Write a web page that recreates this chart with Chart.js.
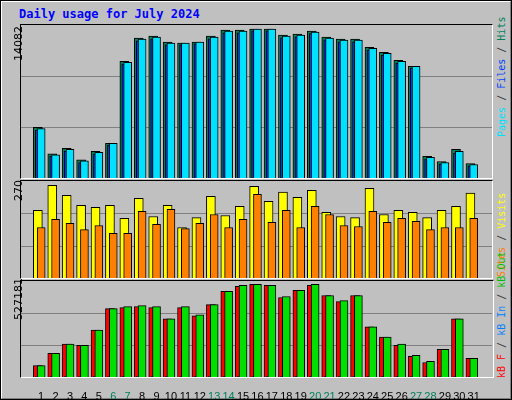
<!DOCTYPE html>
<html>
<head>
<meta charset="utf-8">
<script src="https://cdn.jsdelivr.net/npm/chart.js@4"></script>
<style>
  body { margin: 0; background: #fff; }
  #frame { position: absolute; left: 0; top: 0; width: 508px; height: 396px; background: #c0c0c0;
           border-top: 2px solid #fff; border-left: 2px solid #fff; border-right: 2px solid #808080; border-bottom: 2px solid #808080;
           outline: 1px solid #000; outline-offset: -1px; }
  #title { position: absolute; left: 19px; top: 7px; font: bold 12px "DejaVu Sans Mono", monospace; color: #0000ff; }
  .box { position: absolute; border: 1px solid #000; border-right-color: #fff; border-bottom-color: #fff; }
  .box canvas { display: block; }
  .rot { position: absolute; transform-origin: 0 0; transform: rotate(-90deg); white-space: nowrap;
         font: 10px "DejaVu Sans Mono", monospace; }
  .sep { color: #404040; }
</style>
</head>
<body>
<div id="frame"></div>
<div id="title">Daily usage for July 2024</div>

<div class="box" style="left:20px;top:24px;width:471px;height:153px"><canvas id="c1"></canvas></div>
<div class="box" style="left:20px;top:180px;width:471px;height:97px"><canvas id="c2"></canvas></div>
<div style="position:absolute;left:21px;top:281px;width:471px;height:118px"><canvas id="c3"></canvas></div>
<div style="position:absolute;left:20px;top:280px;width:472px;height:96px;border-left:1px solid #000;border-top:1px solid #000;border-bottom:1px solid #fff;border-right:1px solid #fff;pointer-events:none"></div>

<div class="rot" style="left:12px;top:61px;font-family:'DejaVu Sans';font-size:11px">14082</div>
<div class="rot" style="left:12px;top:201px;font-family:'DejaVu Sans';font-size:11px">270</div>
<div class="rot" style="left:12px;top:320px;font-family:'DejaVu Sans';font-size:11px">527181</div>

<div class="rot" style="left:496px;top:137px"><span style="color:#00e0ff">Pages</span><span class="sep"> / </span><span style="color:#0040ff">Files</span><span class="sep"> / </span><span style="color:#00805c">Hits</span></div>
<div class="rot" style="left:496px;top:277px"><span style="color:#ff8000">Sites</span><span class="sep"> / </span><span style="color:#ffff00">Visits</span></div>
<div class="rot" style="left:496px;top:378px"><span style="color:#ff0000">kB F</span><span class="sep"> / </span><span style="color:#0080ff">kB In</span><span class="sep"> / </span><span style="color:#00c000">kB Out</span></div>

<script>
const days = [1,2,3,4,5,6,7,8,9,10,11,12,13,14,15,16,17,18,19,20,21,22,23,24,25,26,27,28,29,30,31];
const weekends = [6,7,13,14,20,21,27,28];
const hits  = [4779,2294,2804,1720,2517,3282,11024,13222,13413,12840,12744,12840,13413,13987,13987,14082,14082,13509,13604,13891,13318,13127,13127,12362,11884,11119,10546,2039,1561,2708,1370];
const files = [4680,2200,2710,1625,2420,3280,10930,13125,13318,12745,12744,12840,13318,13890,13890,14082,14082,13413,13509,13795,13222,13030,13030,12266,11790,11025,10546,1945,1465,2520,1275];
const pages = [4520,2040,2550,1460,2260,3120,10770,12960,13160,12580,12580,12680,13160,13730,13730,13920,13920,13250,13350,13640,13060,12870,12870,12100,11630,10860,10380,1790,1310,2360,1120];
const visits = [197,270,241,212,206,212,174,232,179,212,147,176,238,182,209,267,223,250,235,255,191,179,176,261,185,197,191,176,197,209,247];
const sites  = [147,171,159,141,153,130,130,194,156,200,144,159,185,147,171,244,162,197,147,209,185,153,150,194,162,174,165,141,147,147,174];
const kbF   = [65416,134680,186628,180856,267436,388648,394420,400192,394420,330928,394420,348244,411736,486772,515632,527176,521404,452140,492544,521404,463684,429052,463684,284752,227032,180856,117364,82732,157768,330928,105820];
const kbOut = [65416,134680,186628,180856,267436,388648,400192,405964,400192,330928,400192,354016,411736,486772,521404,527176,521404,457912,492544,527176,463684,434824,463684,284752,227032,186628,123136,88504,157768,330928,105820];
const kbIn  = [3000,3000,3000,3000,3000,3000,3000,3000,3000,3000,3000,3000,3000,3000,3000,3000,3000,3000,3000,3000,3000,3000,3000,3000,3000,3000,3000,3000,3000,3000,3000];

const xMin = 0.128, xMax = 31.74;

function pts(vals, off) {
    return vals.map(function (v, i) { return { x: days[i] + off, y: v }; });
}

function bar(label, vals, off, color, thick, order) {
    return { label: label, data: pts(vals, off), backgroundColor: color, borderColor: '#000',
             borderWidth: 1, barThickness: thick, grouped: false, order: order };
}

// grid lines at thirds, drawn with the y scale
const thirdsGrid = {
    id: 'thirdsGrid',
    beforeDatasetsDraw: function (chart) {
        const y = chart.scales.y, a = chart.chartArea, ctx = chart.ctx;
        ctx.save();
        ctx.strokeStyle = '#808080';
        ctx.lineWidth = 1;
        [y.max / 3, y.max * 2 / 3].forEach(function (v) {
            const p = Math.round(y.getPixelForValue(v)) + 0.5;
            ctx.beginPath(); ctx.moveTo(a.left, p); ctx.lineTo(a.right, p); ctx.stroke();
        });
        ctx.restore();
    }
};

function makeChart(id, datasets, yMax, showX) {
    return new Chart(document.getElementById(id), {
        type: 'bar',
        data: { datasets: datasets },
        plugins: [thirdsGrid],
        options: {
            responsive: true, maintainAspectRatio: false, animation: false,
            layout: { padding: 0 },
            plugins: { legend: { display: false }, tooltip: { enabled: false } },
            scales: {
                x: {
                    type: 'linear', min: xMin, max: xMax, display: showX,
                    grid: { display: false }, border: { display: false },
                    afterBuildTicks: function (s) { s.ticks = days.map(function (d) { return { value: d }; }); },
                    afterFit: function (s) { if (showX) { s.height = 22; s.paddingLeft = 0; s.paddingRight = 0; } },
                    ticks: {
                        autoSkip: false, maxRotation: 0, padding: 5,
                        font: { family: 'Liberation Sans', size: 11 },
                        color: function (c) { return weekends.indexOf(c.tick.value) >= 0 ? '#00805c' : '#000'; },
                        callback: function (v) { return v; }
                    }
                },
                y: { min: 0, max: yMax, display: false }
            }
        }
    });
}

makeChart('c1', [
    bar('Hits', hits, -0.23, '#00805c', 9, 3),
    bar('Pages', pages, -0.3, '#0040ff', 3, 2),
    bar('Files', files, 0, '#00e0ff', 8, 1)
], 14462, false);

makeChart('c2', [
    bar('Visits', visits, -0.23, '#ffff00', 9, 2),
    bar('Sites', sites, 0, '#ff8000', 8, 1)
], 282.5, false);

makeChart('c3', [
    bar('kB F', kbF, -0.23, '#ff0000', 9, 3),
    bar('kB In', kbIn, -0.3, '#0040ff', 3, 2),
    bar('kB Out', kbOut, 0, '#00e000', 8, 1)
], 546150, true);
</script>
</body>
</html>
